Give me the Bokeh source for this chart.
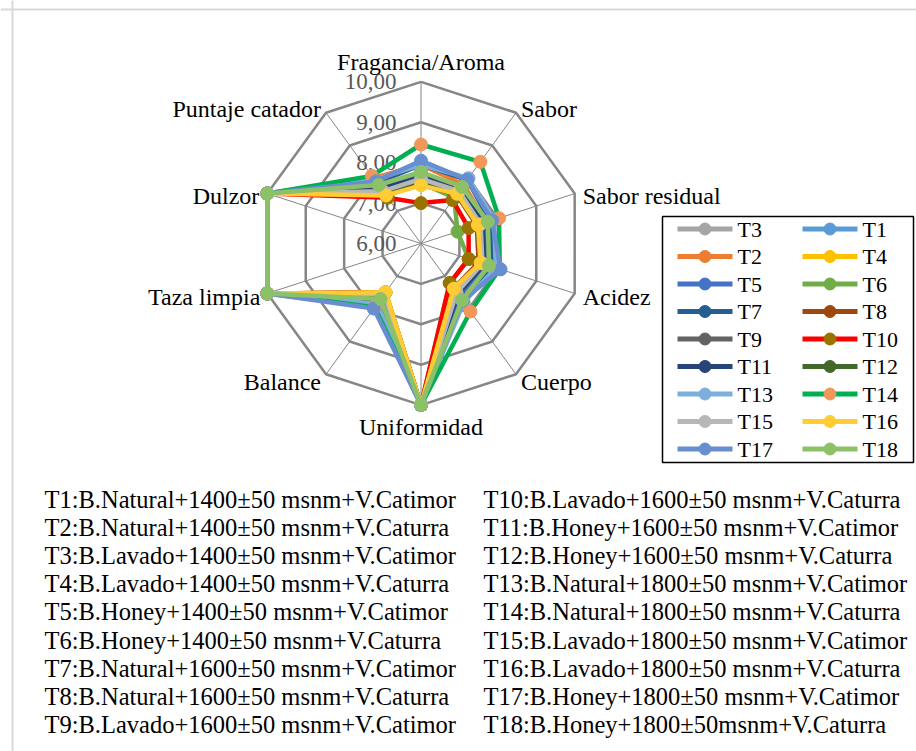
import numpy as np

from bokeh.plotting import figure
from bokeh.models import Range1d, Span
from bokeh.core.properties import value
from bokeh.embed import file_html
from bokeh.resources import INLINE

# --- data -------------------------------------------------------------
attributes = ["Fragancia/Aroma", "Sabor", "Sabor residual", "Acidez", "Cuerpo",
              "Uniformidad", "Balance", "Taza limpia", "Dulzor", "Puntaje catador"]

scale_ticks = [6, 7, 8, 9, 10]
scale_labels = ["6,00", "7,00", "8,00", "9,00", "10,00"]

# scores per treatment, same order as attributes
t1 = [7.70, 7.65, 7.60, 7.65, 7.55, 10, 7.60, 10, 10, 7.70]
t2 = [7.95, 7.80, 7.70, 7.75, 7.70, 10, 7.75, 10, 10, 8.00]
t3 = [7.60, 7.58, 7.55, 7.60, 7.50, 10, 7.55, 10, 10, 7.60]
t4 = [7.50, 7.55, 7.50, 7.56, 7.40, 10, 7.50, 10, 10, 7.50]
t5 = [7.75, 7.70, 7.65, 7.70, 7.60, 10, 7.70, 10, 10, 7.75]
t6 = [7.50, 7.40, 6.95, 7.24, 7.21, 10, 7.50, 10, 10, 7.50]
t7 = [7.95, 7.95, 7.80, 7.85, 7.75, 10, 7.80, 10, 10, 7.85]
t8 = [7.46, 7.50, 7.45, 7.50, 7.38, 10, 7.50, 10, 10, 7.48]
t9 = [7.55, 7.55, 7.50, 7.55, 7.45, 10, 7.52, 10, 10, 7.55]
t10 = [7.00, 7.33, 7.24, 7.24, 7.21, 10, 7.50, 10, 10, 7.40]
t11 = [7.70, 7.70, 7.60, 7.65, 7.55, 10, 7.60, 10, 10, 7.70]
t12 = [7.55, 7.52, 7.48, 7.55, 7.38, 10, 7.55, 10, 10, 7.55]
t13 = [7.95, 8.00, 7.90, 7.95, 7.80, 10, 7.85, 10, 10, 7.95]
t14 = [8.45, 8.50, 8.03, 8.05, 8.08, 10, 7.95, 10, 10, 8.07]
t15 = [7.60, 7.60, 7.55, 7.60, 7.50, 10, 7.55, 10, 10, 7.60]
t16 = [7.44, 7.52, 7.48, 7.55, 7.38, 10, 7.49, 10, 10, 7.47]
t17 = [8.05, 7.95, 7.85, 8.07, 7.75, 10, 7.99, 10, 10, 7.90]
t18 = [7.77, 7.73, 7.74, 7.77, 7.73, 10, 7.70, 10, 10, 7.79]

scores = {"T1": t1, "T2": t2, "T3": t3, "T4": t4, "T5": t5, "T6": t6,
          "T7": t7, "T8": t8, "T9": t9, "T10": t10, "T11": t11, "T12": t12,
          "T13": t13, "T14": t14, "T15": t15, "T16": t16, "T17": t17, "T18": t18}

# drawing / legend order
series_order = ["T3", "T1", "T2", "T4", "T5", "T6", "T7", "T8", "T9",
                "T10", "T11", "T12", "T13", "T14", "T15", "T16", "T17", "T18"]

line_colors = {"T3": "#A5A5A5", "T1": "#5B9BD5", "T2": "#ED7D31", "T4": "#FFC000",
               "T5": "#4472C4", "T6": "#70AD47", "T7": "#255E91", "T8": "#9E480E",
               "T9": "#636363", "T10": "#FF0000", "T11": "#264478", "T12": "#43682B",
               "T13": "#7CAFDD", "T14": "#00B050", "T15": "#B7B7B7", "T16": "#FFCD33",
               "T17": "#698ED0", "T18": "#8CC168"}
marker_colors = dict(line_colors, T10="#997300", T14="#F1975A")

descriptions = [
    "T1:B.Natural+1400\u00b150 msnm+V.Catimor",
    "T2:B.Natural+1400\u00b150 msnm+V.Caturra",
    "T3:B.Lavado+1400\u00b150 msnm+V.Catimor",
    "T4:B.Lavado+1400\u00b150 msnm+V.Caturra",
    "T5:B.Honey+1400\u00b150 msnm+V.Catimor",
    "T6:B.Honey+1400\u00b150 msnm+V.Caturra",
    "T7:B.Natural+1600\u00b150 msnm+V.Catimor",
    "T8:B.Natural+1600\u00b150 msnm+V.Caturra",
    "T9:B.Lavado+1600\u00b150 msnm+V.Catimor",
    "T10:B.Lavado+1600\u00b150 msnm+V.Caturra",
    "T11:B.Honey+1600\u00b150 msnm+V.Catimor",
    "T12:B.Honey+1600\u00b150 msnm+V.Caturra",
    "T13:B.Natural+1800\u00b150 msnm+V.Catimor",
    "T14:B.Natural+1800\u00b150 msnm+V.Caturra",
    "T15:B.Lavado+1800\u00b150 msnm+V.Catimor",
    "T16:B.Lavado+1800\u00b150 msnm+V.Caturra",
    "T17:B.Honey+1800\u00b150 msnm+V.Catimor",
    "T18:B.Honey+1800\u00b150msnm+V.Caturra",
]

# --- layout helpers (page pixels -> data units) -----------------------
FONT = value("Liberation Serif, Times New Roman, serif")
UNIT = 40.4          # pixels per score point
CX, CY = 420.5, 243  # radar centre on the page
R0 = scale_ticks[0]  # score at the centre
W, H = 916, 751


def px(x):
    return (x - CX) / UNIT


def py(y):
    return (CY - y) / UNIT


n = len(attributes)
theta = np.arange(n) * 2 * np.pi / n
sx, sy = np.sin(theta), np.cos(theta)

p = figure(width=W, height=H, x_range=Range1d(px(0), px(W)),
           y_range=Range1d(py(H), py(0)), toolbar_location=None,
           output_backend="svg", min_border=0)
p.axis.visible = False
p.grid.visible = False
p.outline_line_color = None
p.background_fill_color = "white"

# chart area border (only left/top are inside the picture)
p.add_layout(Span(location=px(12), dimension="height", line_color="#d9d9d9", line_width=2))
p.add_layout(Span(location=py(9), dimension="width", line_color="#d9d9d9", line_width=2))

# grid rings and spokes
rmax = scale_ticks[-1] - R0
for v in scale_ticks[1:]:
    r = v - R0
    p.line(list(r * sx) + [r * sx[0]], list(r * sy) + [r * sy[0]],
           line_color="#868686", line_width=2.5, line_join="round")
p.segment(x0=np.zeros(n), y0=np.zeros(n), x1=rmax * sx, y1=rmax * sy,
          line_color="#868686", line_width=1)

# scale labels
p.text(x=[px(396)] * len(scale_ticks), y=[v - R0 for v in scale_ticks], text=scale_labels,
       text_align="right", text_baseline="middle", text_font=FONT,
       text_font_size="23px", text_color="#595959")

# attribute labels around the outer ring
lab_align = ["center", "left", "left", "left", "left", "center", "right", "right", "right", "right"]
lab_dx = [0, 5, 8, 8, 5, 0, -5, -7, -8, -5]
lab_dy = [-20, -4, 2, 4, 8, 22, 8, 4, 2, -4]
for i, name in enumerate(attributes):
    p.text(x=[rmax * sx[i]], y=[rmax * sy[i]], text=[name], x_offset=lab_dx[i],
           y_offset=lab_dy[i], text_align=lab_align[i], text_baseline="middle",
           text_font=FONT, text_font_size="24px", text_color="black")

# series
for name in series_order:
    r = np.array(scores[name]) - R0
    xs, ys = r * sx, r * sy
    p.line(list(xs) + [xs[0]], list(ys) + [ys[0]], line_color=line_colors[name],
           line_width=4.5, line_join="round")
    p.scatter(xs, ys, size=13, marker="circle", fill_color=marker_colors[name],
              line_color=marker_colors[name])

# legend box (two columns, filled row by row)
p.quad(left=[px(662)], right=[px(913)], top=[py(216)], bottom=[py(462)],
       fill_color="white", line_color="black", line_width=1.5)
col_x = [677, 802]
for k, name in enumerate(series_order):
    x0 = col_x[k % 2]
    y0 = 228.5 + (k // 2) * 27.5
    p.line([px(x0), px(x0 + 55)], [py(y0), py(y0)], line_color=line_colors[name],
           line_width=5)
    p.scatter([px(x0 + 27.5)], [py(y0)], size=12, marker="circle",
              fill_color=marker_colors[name], line_color=marker_colors[name])
    p.text(x=[px(x0 + 60)], y=[py(y0)], text=[name], text_align="left",
           text_baseline="middle", text_font=FONT, text_font_size="22px",
           text_color="black")

# treatment descriptions below the chart
half = len(descriptions) // 2
for k, txt in enumerate(descriptions):
    x0 = 44 if k < half else 483
    y0 = 499 + (k % half) * 28.1
    p.text(x=[px(x0)], y=[py(y0)], text=[txt], text_align="left",
           text_baseline="middle", text_font=FONT, text_font_size="24.5px",
           text_color="black")

open("out.html", "w").write(file_html(p, INLINE))
